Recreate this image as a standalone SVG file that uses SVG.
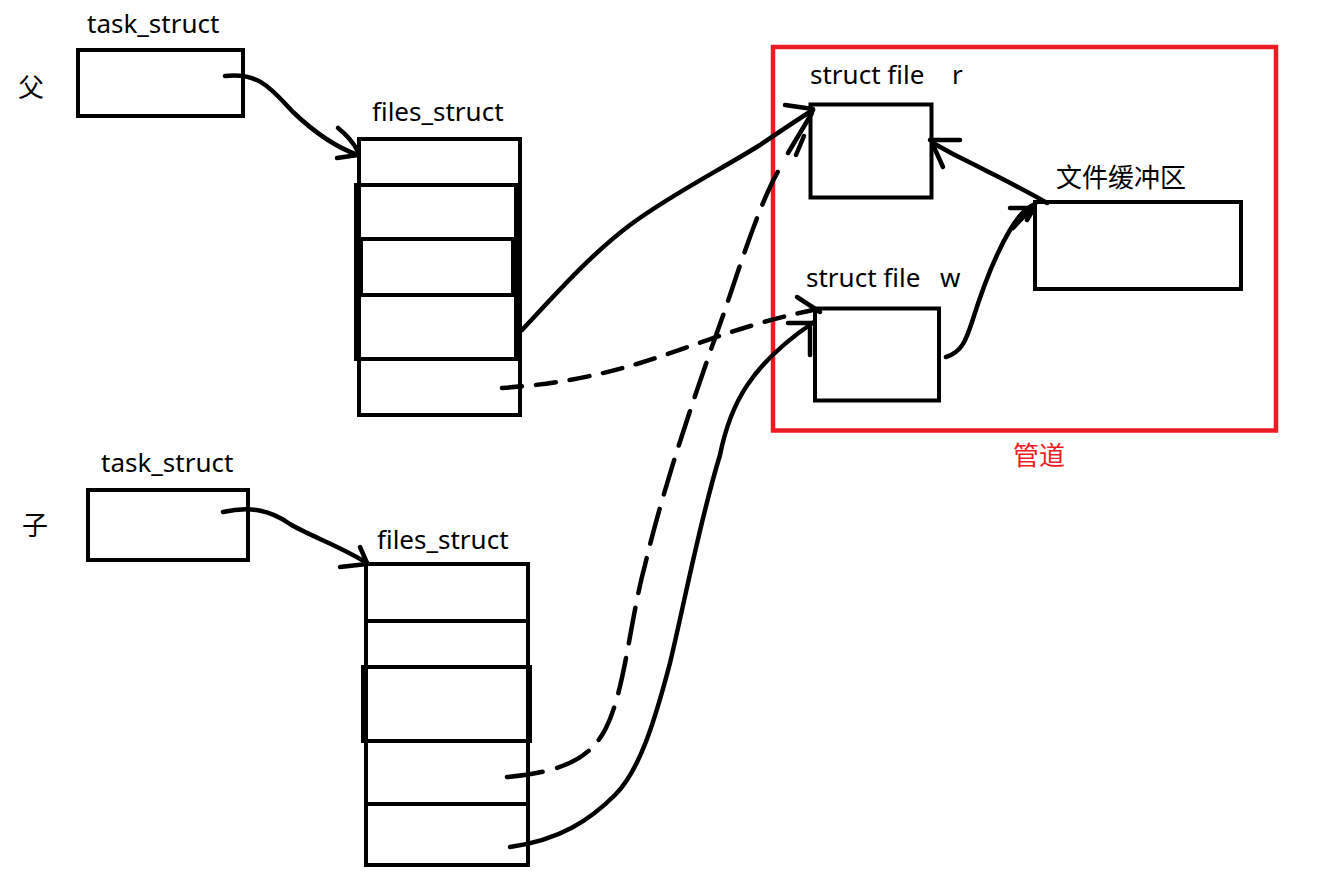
<svg xmlns="http://www.w3.org/2000/svg" width="1317" height="889" viewBox="0 0 1317 889">
<style>
.box{fill:#fff;stroke:#000;stroke-width:4}
.ln{stroke:#000;stroke-width:4;fill:none}
.bar{fill:#000}
.c{fill:none;stroke:#000;stroke-width:4.5;stroke-linecap:round;stroke-linejoin:round}
.d1{stroke-dasharray:20 14}
.d2{stroke-dasharray:36 15}
.t{font-family:"Noto Sans","Open Sans","Noto Sans CJK SC",sans-serif;font-size:26px;fill:#000}
.cjk{font-family:"Noto Sans CJK SC","Noto Sans CJK JP",sans-serif;font-size:26px;fill:#000}
.red{fill:#ED1C24}
</style>
<rect width="1317" height="889" fill="#fff"/>

<g id="pipe">
  <rect x="773" y="47" width="503" height="383.5" fill="none" stroke="#ED1C24" stroke-width="4.5"/>
  <text class="cjk red" x="1013" y="465">管道</text>
</g>

<g id="parent-label"><text class="cjk" x="18" y="97">父</text></g>
<g id="child-label"><text class="cjk" x="22" y="535">子</text></g>

<g id="parent-task">
  <text class="t" x="87" y="33">task_struct</text>
  <rect class="box" x="78" y="50" width="165" height="66"/>
</g>

<g id="parent-files">
  <text class="t" x="372" y="121">files_struct</text>
  <rect class="box" x="359" y="139" width="161" height="276"/>
  <path class="ln" d="M354 185H522M354 239H522M354 295H522M354 359H522"/>
  <rect class="bar" x="354" y="183" width="7" height="178"/>
  <rect class="bar" x="354" y="237" width="9" height="60"/>
  <rect class="bar" x="514" y="183" width="8" height="178"/>
  <rect class="bar" x="511" y="237" width="11" height="60"/>
</g>

<g id="child-task">
  <text class="t" x="101" y="472">task_struct</text>
  <rect class="box" x="88" y="490" width="160" height="70"/>
</g>

<g id="child-files">
  <text class="t" x="377" y="549">files_struct</text>
  <rect class="box" x="366" y="564" width="162" height="301"/>
  <path class="ln" d="M366 621H528M361 667H532M361 741H532M366 804H528"/>
  <rect class="bar" x="361" y="665" width="7" height="78"/>
  <rect class="bar" x="526" y="665" width="6" height="78"/>
</g>

<g id="file-r">
  <text class="t" x="810" y="84">struct file<tspan x="952">r</tspan></text>
  <rect class="box" x="810.5" y="104.5" width="121" height="93"/>
</g>

<g id="file-w">
  <text class="t" x="806" y="287">struct file<tspan x="940">w</tspan></text>
  <rect class="box" x="815" y="308.5" width="124" height="92"/>
</g>

<g id="buffer">
  <text class="cjk" x="1056" y="187">文件缓冲区</text>
  <rect class="box" x="1035" y="202" width="206" height="87"/>
</g>

<g id="connectors">
  <!-- parent task -> files -->
  <path class="c" d="M225 76C260 72 272 90 293 112C315 133 335 147 358 155"/>
  <path class="c" d="M338 128C348 136 353 142 357 150M337 158L358 155"/>
  <!-- child task -> files -->
  <path class="c" d="M223 512C250 506 270 510 290 524C310 536 340 546 367 563"/>
  <path class="c" d="M360 547L367 563M340 567L367 564"/>
  <!-- parent fd row -> struct file r -->
  <path class="c" d="M522 330C555 295 590 255 630 225C670 195 720 170 760 145C785 128 800 118 813 110"/>
  <path class="c" d="M785 105L813 109M788 153L812 113M796 155L804 136"/>
  <!-- child dashed -> struct file r -->
  <path class="c d2" d="M507 777C560 772 590 760 606 728C625 690 630 620 645 565C665 480 700 380 725 310C745 250 765 190 782 165"/>
  <!-- parent dashed -> struct file w -->
  <path class="c d1" d="M502 388C560 384 600 375 640 363C690 348 740 325 813 310"/>
  <path class="c" d="M797 297L820 312"/>
  <!-- child solid -> struct file w -->
  <path class="c" d="M510 847C560 840 590 820 615 795C640 770 655 720 670 663C685 600 700 520 720 455C730 405 750 365 814 322"/>
  <path class="c" d="M788 323L813 323M810 327L810 355"/>
  <!-- w -> buffer -->
  <path class="c" d="M946 357C962 352 966 340 972 322C982 290 995 255 1010 230C1018 216 1025 208 1035 204"/>
  <path class="c" d="M1010 208L1033 208M1013 228L1030 210M1027 220L1033 210"/>
  <!-- buffer -> r -->
  <path class="c" d="M1047 203C1025 190 1000 178 975 165C958 157 945 150 933 143"/>
  <path class="c" d="M930 140L960 140M933 145L943 167"/>
</g>
</svg>
